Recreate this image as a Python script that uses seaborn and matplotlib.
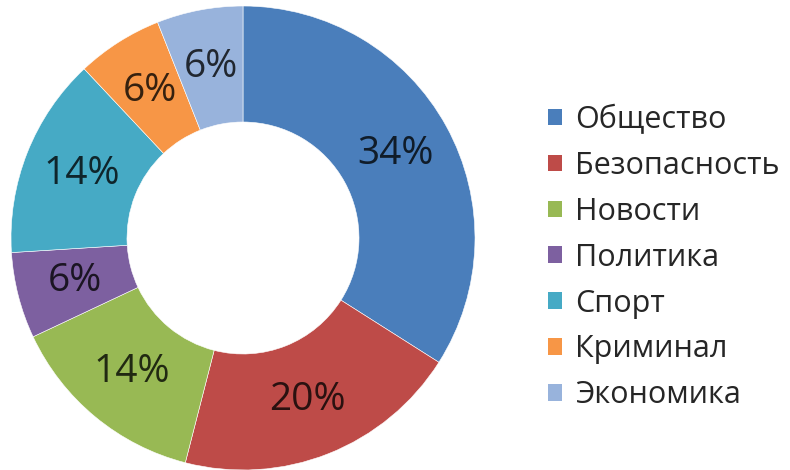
import matplotlib
matplotlib.use('Agg')
import matplotlib.pyplot as plt
import matplotlib.patches as mpatches
import seaborn as sns

categories = ['Общество', 'Безопасность', 'Новости', 'Политика', 'Спорт', 'Криминал', 'Экономика']
shares = [34, 20, 14, 6, 14, 6, 6]
colors = ['#4A7EBB', '#BE4B48', '#98B954', '#7D60A0', '#46AAC5', '#F79646', '#98B3DC']

sns.set_style('white')
plt.rcParams['font.family'] = ['Open Sans', 'DejaVu Sans']

palette = sns.color_palette(colors)
dark = [tuple(c * 0.22 for c in col) for col in palette]

fig = plt.figure(figsize=(7.9, 4.7), dpi=100)
ax = fig.add_axes([11 / 790, 0.0, 464 / 790, 464 / 470])

wedges, texts, autotexts = ax.pie(
    shares, colors=palette, startangle=90, counterclock=False,
    radius=1.0, autopct='%d%%', pctdistance=0.75,
    wedgeprops=dict(width=0.5, edgecolor='white', linewidth=0.4),
    textprops=dict(fontsize=28),
)
for t, c in zip(autotexts, dark):
    t.set_color(c)
ax.set_xlim(-1, 1)
ax.set_ylim(-1, 1)
ax.set_aspect('equal')
ax.axis('off')

handles = [mpatches.Patch(facecolor=c, edgecolor='none') for c in palette]
leg = fig.legend(handles, categories, loc='center left', bbox_to_anchor=(548 / 790, 0.452),
                 frameon=False, fontsize=22, handlelength=0.46, handleheight=0.46,
                 handletextpad=0.42, labelspacing=0.52, borderpad=0, borderaxespad=0)
for t in leg.get_texts():
    t.set_color('#262626')

fig.savefig('out.png', dpi=100)
